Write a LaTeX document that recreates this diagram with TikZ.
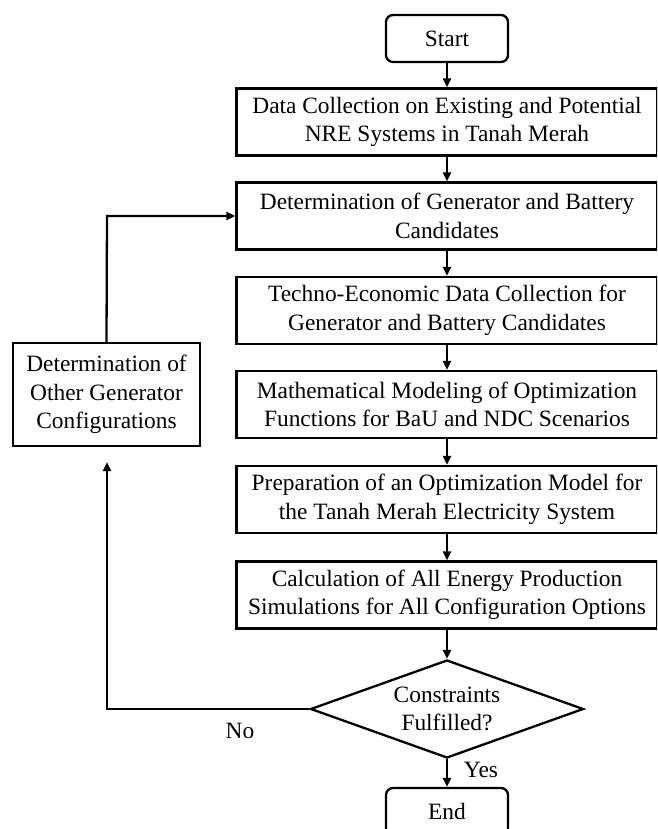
\documentclass[tikz,border=0pt]{standalone}
\usepackage{fontspec}
\setmainfont{Liberation Serif}
\usetikzlibrary{shapes.geometric,arrows.meta}
\begin{document}
\begin{tikzpicture}[x=1pt,y=-1pt,
  every node/.style={font=\fontsize{23.4}{28.5}\selectfont, align=center, inner sep=0pt},
  procbox/.style={draw, line width=2.3pt, minimum width=421pt, minimum height=67pt},
  termbox/.style={draw, line width=2.3pt, rounded corners=7pt, minimum width=122pt, minimum height=47pt},
  decbox/.style={draw, line width=2.3pt, diamond, minimum width=273pt, minimum height=98pt, aspect=2.8},
  sidebox/.style={draw, line width=2.3pt, minimum width=187pt, minimum height=103pt},
  conn/.style={line width=2.3pt, -{Triangle[length=9pt,width=8pt]}}]
\useasboundingbox (0,0) rectangle (657,829);
\clip (0,0) rectangle (657,829);
\node[termbox] (start) at (447,38.5) {Start};
\node[procbox] (b1) at (447,122) {Data Collection on Existing and Potential\\NRE Systems in Tanah Merah};
\node[procbox] (b2) at (447,216) {Determination of Generator and Battery\\Candidates};
\node[procbox] (b3) at (447,310.5) {Techno-Economic Data Collection for\\Generator and Battery Candidates};
\node[procbox] (b4) at (447,404.5) {Mathematical Modeling of Optimization\\Functions for BaU and NDC Scenarios};
\node[procbox] (b5) at (447,499.5) {Preparation of an Optimization Model for\\the Tanah Merah Electricity System};
\node[procbox] (b6) at (447,595) {Calculation of All Energy Production\\Simulations for All Configuration Options};
\node[decbox] (dec) at (447,709) {Constraints\\Fulfilled?};
\node[termbox] (end) at (447,811.5) {End};
\node[sidebox] (side) at (106.5,394.5) {Determination of\\Other Generator\\Configurations};
\coordinate (loopA) at (107,709);
\coordinate (loopB) at (107,462);
\coordinate (upA) at (107,216);
\draw[conn] (start) -- (b1);
\draw[conn] (b1) -- (b2);
\draw[conn] (b2) -- (b3);
\draw[conn] (b3) -- (b4);
\draw[conn] (b4) -- (b5);
\draw[conn] (b5) -- (b6);
\draw[conn] (b6) -- (dec);
\draw[conn] (dec) -- (end);
\draw[conn] (dec.west) -- (loopA) -- (loopB);
\draw[conn] (side.north) -- (upA) -- (b2.west);
\node (no) at (240,731) {No};
\node (yes) at (481,770) {Yes};
\end{tikzpicture}
\end{document}
